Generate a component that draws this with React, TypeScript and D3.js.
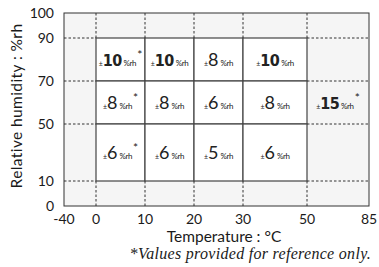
import * as d3 from 'd3'

// temperature / humidity break points (axis is piecewise, not linear)
const tempTicks = [-40, 0, 10, 20, 30, 50, 85]
const rhTicks = [0, 10, 50, 70, 90, 100]
const rhLabels = [0, 10, 50, 70, 90, 100]

const colBounds = [[0, 10], [10, 20], [20, 30], [30, 50]]
const rowBounds = [[70, 90], [50, 70], [10, 50]]
const accuracy = [
  [10, 10, 8, 10],
  [8, 8, 6, 8],
  [6, 6, 5, 6],
]
const starCol = 0
const outer = { t: [50, 85], rh: [50, 70], value: 15 }

const dashH = [90, 70, 50, 10]
const dashV = [0, 10, 20, 30, 50]

export default function App() {
  const W = 379, H = 267
  const x = d3.scaleLinear().domain(tempTicks).range([64, 96, 145, 194, 243, 307, 369])
  const y = d3.scaleLinear().domain(rhTicks).range([206, 181, 124, 81, 38, 13])
  const sans = 'Lato, sans-serif'
  const ink = '#333'

  const label = (cx: number, cy: number, v: number, star: boolean, key: string) => {
    const bold = v >= 10
    return (
      <text key={key} x={cx} y={cy + 6.5} textAnchor="middle" fill="#222" fontFamily={sans}>
        <tspan fontSize={7}>±</tspan>
        <tspan fontSize={bold ? 16 : 18} fontWeight={bold ? 700 : 400}
          fontFamily={bold ? '"Liberation Sans Narrow", "DejaVu Sans Condensed", sans-serif' : sans}
          letterSpacing={bold ? -0.6 : 0}>{v}</tspan>
        <tspan fontSize={8} dx={2} letterSpacing={-0.4}>%rh</tspan>
        {star && <tspan fontSize={12} dy={-7} dx={1}>*</tspan>}
      </text>
    )
  }

  return (
    <svg width={W} height={H} style={{ position: 'absolute', left: 0, top: 0 }}>
      <rect x={x(-40)} y={y(100)} width={x(85) - x(-40)} height={y(0) - y(100)} fill="#f5f5f5" />
      {/* dashed guides outside the white block */}
      {dashH.map(v => (
        <g key={'h' + v}>
          <line x1={x(-40)} x2={x(0)} y1={y(v)} y2={y(v)} stroke={ink} strokeDasharray="2.5,2" />
          <line x1={x(50)} x2={x(85)} y1={y(v)} y2={y(v)} stroke={ink} strokeDasharray="2.5,2" />
        </g>
      ))}
      {dashV.map(v => (
        <g key={'v' + v}>
          <line x1={x(v)} x2={x(v)} y1={y(100)} y2={y(90)} stroke={ink} strokeDasharray="2.5,2" />
          <line x1={x(v)} x2={x(v)} y1={y(10)} y2={y(0)} stroke={ink} strokeDasharray="2.5,2" />
        </g>
      ))}
      {rowBounds.map((r, i) => colBounds.map((c, j) => (
        <rect key={`c${i}-${j}`} x={x(c[0])} y={y(r[1])} width={x(c[1]) - x(c[0])} height={y(r[0]) - y(r[1])}
          fill="#fff" stroke="#444" strokeWidth={1.2} />
      )))}
      {rowBounds.map((r, i) => colBounds.map((c, j) =>
        label((x(c[0]) + x(c[1])) / 2, (y(r[0]) + y(r[1])) / 2, accuracy[i][j], j === starCol, `l${i}-${j}`)
      ))}
      {label((x(outer.t[0]) + x(outer.t[1])) / 2, (y(outer.rh[0]) + y(outer.rh[1])) / 2, outer.value, true, 'out')}
      <rect x={x(-40)} y={y(100)} width={x(85) - x(-40)} height={y(0) - y(100)} fill="none" stroke={ink} strokeWidth={1} />
      {tempTicks.map(t => (
        <text key={'xt' + t} x={x(t)} y={224} textAnchor="middle" fontFamily={sans} fontSize={14} fill="#1a1a1a">{t}</text>
      ))}
      {rhLabels.map(t => (
        <text key={'yt' + t} x={54} y={y(t) + 5} textAnchor="end" fontFamily={sans} fontSize={14} fill="#1a1a1a">{t}</text>
      ))}
      <text x={224} y={242} textAnchor="middle" fontFamily={sans} fontSize={15.5} fill="#1a1a1a">Temperature : °C</text>
      <text transform="translate(22,106) rotate(-90)" textAnchor="middle" fontFamily={sans} fontSize={15.5} letterSpacing={0.4} fill="#1a1a1a">Relative humidity : %rh</text>
      <text x={371} y={259} textAnchor="end" fontFamily='"Liberation Serif", serif' fontStyle="italic" fontSize={16} letterSpacing={0.3} fill="#1a1a1a">*Values provided for reference only.</text>
    </svg>
  )
}
